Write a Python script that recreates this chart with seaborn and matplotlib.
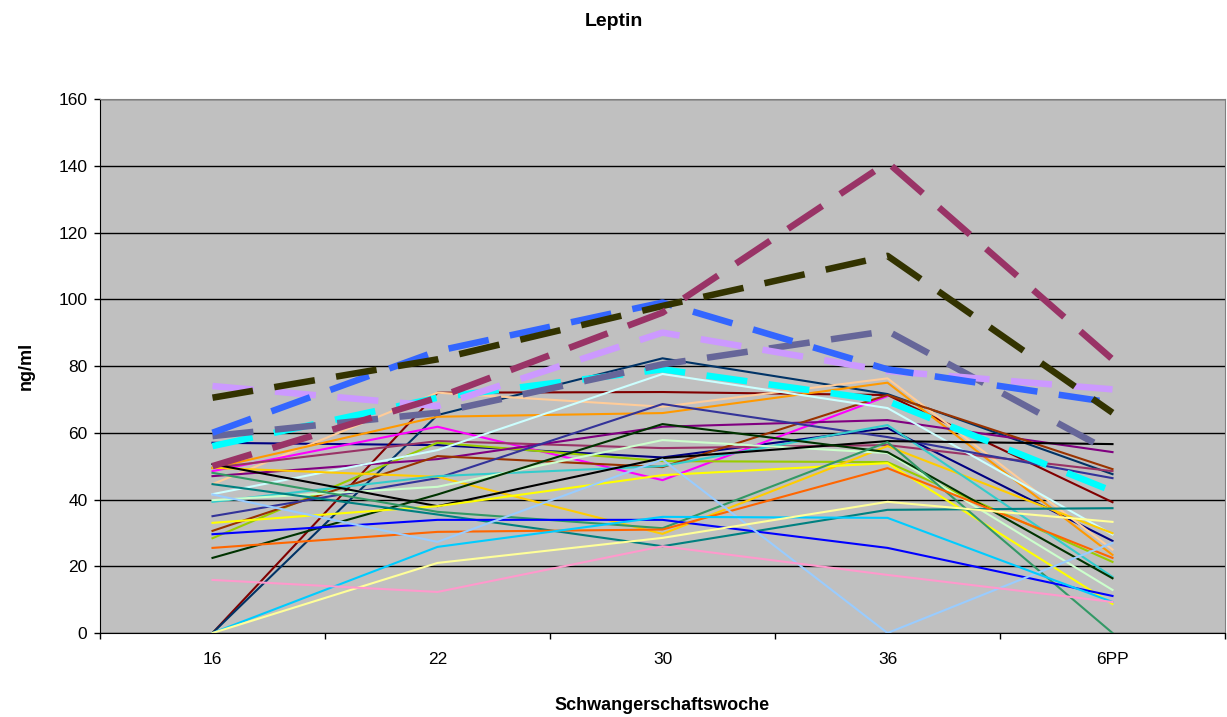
import numpy as np
import pandas as pd
import seaborn as sns
import matplotlib.pyplot as plt

# categories on the x axis
weeks = ["16", "22", "30", "36", "6PP"]

# thin lines (one per subject)
navy = [57, 56.3, 52.6, 61.4, 27.6]
dark_red = [0, 72, 72.2, 71.3, 39.2]
dark_blue = [0, 65.3, 82.3, 71.6, 47.6]
peach = [44.6, 72, 67.8, 76.3, 25]
orange = [49.4, 64.8, 65.9, 75, 23.4]
magenta = [48.5, 61.8, 45.8, 71, np.nan]
plum = [49.5, 57.5, 55.4, 56.3, 48.5]
yellow_green = [28.4, 57, 51.5, 51.2, 21.3]
purple = [47, 52.1, 61.8, 63.8, 54.2]
brown = [30.6, 53, 49.7, 71.3, 49.1]
light_cyan = [41.6, 54.8, 77.6, 67.4, 29.5]
slate_blue = [35, 46.4, 68.6, 58.7, 46.4]
gold = [49.5, 46.8, 29.7, 56, 29.9]
turquoise = [39.3, 47, 50, 62.3, 16.8]
light_green = [39.8, 43.8, 57.8, 53.9, 12.9]
black = [50.6, 38, 52.4, 57.5, 56.6]
dark_green = [22.5, 41.5, 62.6, 54.2, 16.4]
yellow = [33, 38, 47.3, 50.9, 8.7]
sea_green = [48, 36.3, 31.4, 57.2, 0]
teal = [44.6, 35.5, 26, 36.9, 37.4]
blue = [29.6, 33.9, 33.9, 25.5, 11.1]
orange_red = [25.5, 30.3, 31, 49.4, 22.5]
light_blue = [41.5, 27.3, 52, 0, 27]
sky_blue = [0, 25.8, 34.8, 34.5, 9.3]
light_yellow = [0, 21, 28.5, 39.3, 33.3]
pink = [15.9, 12.3, 26, 17.4, 9.3]

# thick dashed lines
d_maroon = [50, 70.5, 96, 141, 82]
d_olive = [70.5, 82, 98, 113, 66]
d_blue = [60, 84.5, 99, 79, 69]
d_lavender = [74, 68, 90, 78.5, 73]
d_slate = [59, 66, 80.5, 90.5, 54]
d_cyan = [56, 70.5, 79, 69.5, 42.5]

thin = [
    (navy, "#000080"), (dark_red, "#800000"), (dark_blue, "#003366"),
    (peach, "#FFCC99"), (orange, "#FF9900"), (magenta, "#FF00FF"),
    (plum, "#993366"), (yellow_green, "#99CC00"), (purple, "#800080"),
    (brown, "#993300"), (light_cyan, "#CCFFFF"), (slate_blue, "#333399"),
    (gold, "#FFCC00"), (turquoise, "#33CCCC"), (light_green, "#CCFFCC"),
    (black, "#000000"), (dark_green, "#003300"), (yellow, "#FFFF00"),
    (sea_green, "#339966"), (teal, "#008080"), (blue, "#0000FF"),
    (orange_red, "#FF6600"), (light_blue, "#99CCFF"), (sky_blue, "#00CCFF"),
    (light_yellow, "#FFFF99"), (pink, "#FF99CC"),
]
dashed = [
    (d_cyan, "#00FFFF"), (d_slate, "#666699"), (d_lavender, "#CC99FF"),
    (d_blue, "#3366FF"), (d_olive, "#333300"), (d_maroon, "#993366"),
]

plt.rcParams['font.family'] = ['Liberation Sans', 'DejaVu Sans']

fig = plt.figure(figsize=(12.27, 7.17), dpi=100)
ax = fig.add_axes([100 / 1227, 1 - 633 / 717, 1125 / 1227, 534 / 717])
ax.set_facecolor("#C0C0C0")

for vals, col in thin:
    sns.lineplot(x=weeks, y=vals, color=col, lw=1.5, errorbar=None,
                 sort=False, ax=ax)
for vals, col in dashed:
    sns.lineplot(x=weeks, y=vals, color=col, lw=4.7, errorbar=None,
                 sort=False, ax=ax, linestyle=(0, (6.3, 3.3)),
                 solid_capstyle='butt', dash_capstyle='butt')

ax.set_xlim(-0.5, 4.5)
ax.set_ylim(0, 160)
ax.set_yticks(range(0, 161, 20))
ax.yaxis.grid(True, color="black", lw=1)
ax.set_axisbelow(True)

ax.set_xticks(range(len(weeks)))
ax.set_xticklabels(weeks)
ax.set_xticks([i - 0.5 for i in range(len(weeks) + 1)], minor=True)
ax.tick_params(axis='x', which='major', length=0, pad=14, labelsize=12.5)
ax.tick_params(axis='x', which='minor', length=4.5, width=1, color="black")
ax.tick_params(axis='y', length=4, width=1, pad=5, labelsize=12.5)

for side in ["top", "right"]:
    ax.spines[side].set_color("#808080")
for side in ["left", "bottom"]:
    ax.spines[side].set_color("black")

ax.set_xlabel("Schwangerschaftswoche", fontsize=13, fontweight='bold',
              labelpad=21)
ax.set_ylabel("ng/ml", fontsize=13, fontweight='bold', labelpad=17)
fig.suptitle("Leptin", fontsize=14, fontweight='bold', y=1 - 21 / 717,
             va='center')

fig.savefig("out.png", dpi=100)
plt.close(fig)
